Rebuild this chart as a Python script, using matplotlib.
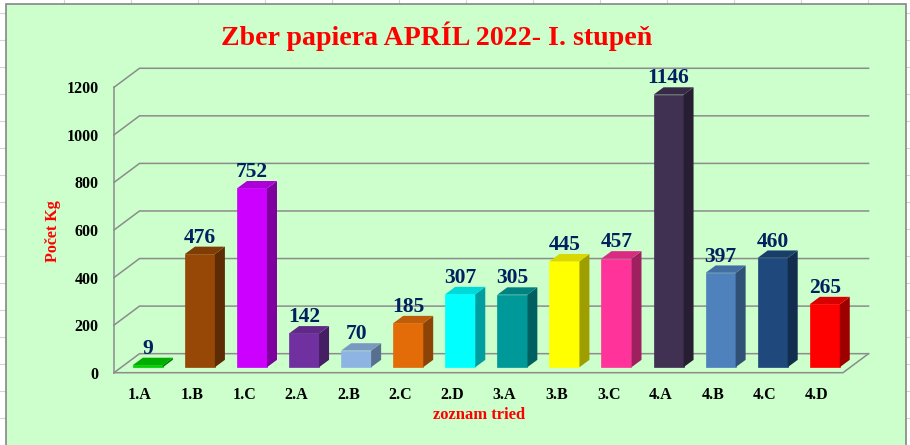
import matplotlib
matplotlib.use('Agg')
import matplotlib.pyplot as plt
from matplotlib.colors import to_rgb
from matplotlib.patches import Polygon, Rectangle

classes = ['1.A', '1.B', '1.C', '2.A', '2.B', '2.C', '2.D',
           '3.A', '3.B', '3.C', '4.A', '4.B', '4.C', '4.D']
kg = [9, 476, 752, 142, 70, 185, 307, 305, 445, 457, 1146, 397, 460, 265]
bar_colors = ['#00CC00', '#974706', '#CC00FF', '#7030A0', '#8EB4E3', '#E36C09', '#00FFFF',
              '#009999', '#FFFF00', '#FF3399', '#403152', '#4F81BD', '#1F497D', '#FF0000']
y_ticks = [0, 200, 400, 600, 800, 1000, 1200]

plt.rcParams['font.family'] = ['Liberation Serif', 'DejaVu Serif']
plt.rcParams['font.weight'] = 'bold'

GRID = '#8C8C8C'
BG = '#CCFFCC'
# fake 3d depth, in data units
WALL_DX = 0.49
WALL_DY = 80
BAR_DX = 0.192
BAR_DY = 31
BAR_W = 0.576
BAR_SHIFT = 0.15
BAR_LIFT = 23


def shade(color, k):
    r, g, b = to_rgb(color)
    return (r * k, g * k, b * k)


def draw_sheet(fig):
    # the excel sheet behind the chart, axes in pixels
    sheet = fig.add_axes([0, 0, 1, 1])
    sheet.set_xlim(0, 910)
    sheet.set_ylim(445, 0)
    sheet.axis('off')
    for y in range(12, 445, 27):
        sheet.plot([0, 910], [y + 0.5, y + 0.5], color='#D4D4D4', lw=0.8)
    for x in range(64, 910, 67):
        sheet.plot([x, x], [0, 445], color='#D4D4D4', lw=0.8)
    sheet.add_patch(Rectangle((5.5, 3.5), 900, 445, facecolor=BG, edgecolor='#868686', lw=1.2, zorder=3))


def draw_walls(ax, n):
    left = -0.5
    right = n - 0.5
    for t in y_ticks:
        ax.plot([left, left + WALL_DX, right + WALL_DX], [t, t + WALL_DY, t + WALL_DY],
                color=GRID, lw=1.1, clip_on=False, zorder=1, solid_joinstyle='miter')
    ax.plot([left, left], [0, y_ticks[-1]], color=GRID, lw=1.1, clip_on=False, zorder=1)
    ax.plot([left, right, right + WALL_DX], [0, 0, WALL_DY], color=GRID, lw=1.1, clip_on=False, zorder=1)


def draw_bars(ax):
    for i, (val, col) in enumerate(zip(kg, bar_colors)):
        x0 = i + BAR_SHIFT - BAR_W / 2
        x1 = x0 + BAR_W
        y0 = BAR_LIFT
        y1 = BAR_LIFT + val
        ax.bar(i + BAR_SHIFT, val, width=BAR_W, bottom=BAR_LIFT, color=col, edgecolor=col,
               linewidth=0.5, zorder=3 + i, clip_on=False)
        side = [(x1, y0), (x1 + BAR_DX, y0 + BAR_DY), (x1 + BAR_DX, y1 + BAR_DY), (x1, y1)]
        top = [(x0, y1), (x0 + BAR_DX, y1 + BAR_DY), (x1 + BAR_DX, y1 + BAR_DY), (x1, y1)]
        ax.add_patch(Polygon(side, facecolor=shade(col, 0.62), edgecolor='none', zorder=3 + i, clip_on=False))
        ax.add_patch(Polygon(top, facecolor=shade(col, 0.85), edgecolor='none', zorder=3 + i, clip_on=False))
        ax.annotate(str(val), (i + BAR_SHIFT, y1), xytext=(0, 11.7), textcoords='offset points',
                    ha='center', va='center', fontsize=15.5, color='#002060',
                    fontweight='bold', zorder=30, annotation_clip=False)


def main():
    fig = plt.figure(figsize=(9.10, 4.45), dpi=100)
    draw_sheet(fig)

    ax = fig.add_axes([114 / 910, (445 - 372.7) / 445, 729 / 910, 285.4 / 445])
    ax.patch.set_alpha(0)
    for s in ax.spines.values():
        s.set_visible(False)
    ax.set_xlim(-0.5, len(classes) - 0.5)
    ax.set_ylim(0, 1200)

    draw_walls(ax, len(classes))
    draw_bars(ax)

    ax.set_xticks(range(len(classes)))
    ax.set_xticklabels(classes, fontsize=11.5, color='black', fontweight='bold')
    ax.set_yticks(y_ticks)
    ax.set_yticklabels([str(t) for t in y_ticks], fontsize=11.5, color='black', fontweight='bold')
    ax.tick_params(axis='x', length=0, pad=10)
    ax.tick_params(axis='y', length=0, pad=11)

    fig.text(436.5 / 910, 1 - 36 / 445, 'Zber papiera APRÍL 2022- I. stupeň', color='red',
             fontsize=20.1, fontweight='bold', ha='center', va='center')
    fig.text(53 / 910, 1 - 231 / 445, 'Počet Kg', color='red', fontsize=11.5, fontweight='bold',
             rotation=90, ha='center', va='center')
    fig.text(479 / 910, 1 - 415 / 445, 'zoznam tried', color='red', fontsize=12, fontweight='bold',
             ha='center', va='center')

    fig.savefig('out.png', dpi=100)


if __name__ == "__main__":
    main()
